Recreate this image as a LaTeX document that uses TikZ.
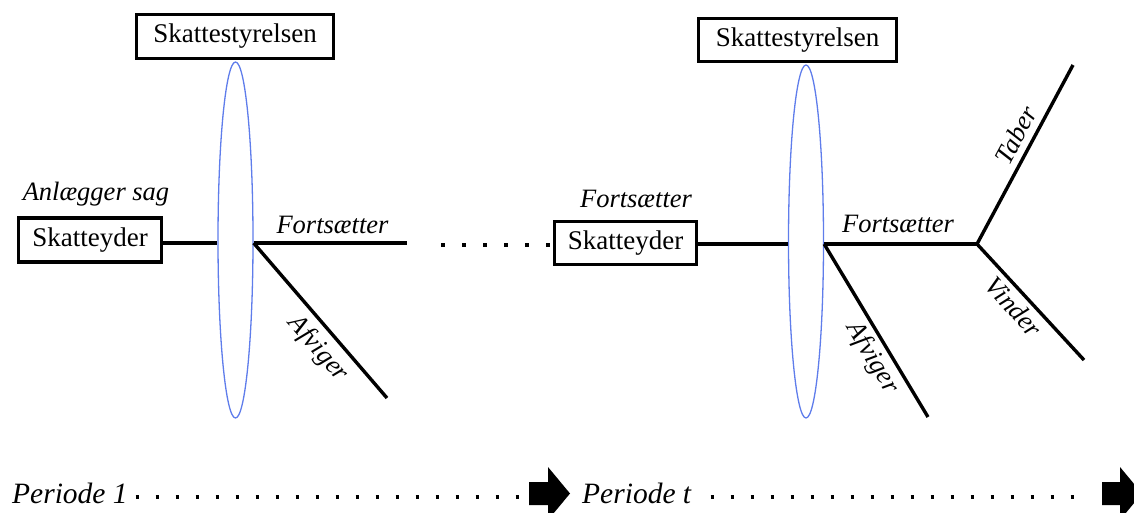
\documentclass[tikz,border=0pt]{standalone}
\usepackage{fontspec}
\setmainfont{Liberation Serif}
\usetikzlibrary{shapes.geometric}
\definecolor{ellblue}{RGB}{95,125,235}
\tikzset{
  box/.style={draw=black, line width=3.4pt, inner sep=0pt, font=\fontsize{27}{30}\selectfont},
  lens/.style={draw=ellblue, line width=1.3pt, ellipse, inner sep=0pt},
  ln/.style={line width=3.4pt, black},
  lbl/.style={font=\fontsize{26.5}{30}\selectfont\itshape, inner sep=0pt},
  plbl/.style={font=\fontsize{29.5}{33}\selectfont\itshape, inner sep=0pt},
  dotrow/.style={line width=4pt, dash pattern=on 4pt off 17pt},
  dotrowb/.style={line width=3.5pt, dash pattern=on 3.5pt off 16.5pt},
  blockarrow/.style={fill=black},
}
\begin{document}
\begin{tikzpicture}[x=1pt,y=-1pt]
\useasboundingbox (0,0) rectangle (1134,512);
\clip (0,0) rectangle (1134,512);

% left period
\node[box, minimum width=197pt, minimum height=44pt] (st1) at (235,36.5) {Skattestyrelsen};
\node[box, minimum width=143pt, minimum height=44pt] (sk1) at (90,240) {Skatteyder};
\node[lens, minimum width=35pt, minimum height=356pt] (e1) at (235.5,240) {};
\coordinate (l1) at (0,243);
\coordinate (f1) at (407,243);
\coordinate (a1) at (387,398);
\draw[ln] (sk1.east |- l1) -- (e1.west |- l1);
\draw[ln] (e1.east |- l1) -- (f1);
\draw[ln] (e1.east |- l1) -- (a1);
\node[lbl, anchor=base] (t1) at (96,200) {Anlægger sag};
\node[lbl, anchor=base] (t2) at (332.5,233) {Fortsætter};
\node[lbl, rotate=-49] (t3) at (318,349) {Afviger};

% dots between periods
\coordinate (d0) at (441,245);
\node[box, minimum width=142pt, minimum height=43pt] (sk2) at (625.5,243) {Skatteyder};
\draw[dotrow] (d0) -- (sk2.west |- d0);

% right period
\node[box, minimum width=198pt, minimum height=43pt] (st2) at (797.5,40) {Skattestyrelsen};
\node[lens, minimum width=35pt, minimum height=353pt] (e2) at (806,241.5) {};
\coordinate (l2) at (0,244);
\coordinate (fork) at (977,244);
\coordinate (tb) at (1073,65);
\coordinate (vd) at (1084,360);
\coordinate (a2) at (928,417);
\draw[ln] (sk2.east |- l2) -- (e2.west |- l2);
\draw[ln] (e2.east |- l2) -- (fork);
\draw[ln] (fork) -- (tb);
\draw[ln] (fork) -- (vd);
\draw[ln] (e2.east |- l2) -- (a2);
\node[lbl, anchor=base] (t4) at (636,207) {Fortsætter};
\node[lbl, anchor=base] (t5) at (898,232) {Fortsætter};
\node[lbl, rotate=-59.3] (t6) at (872,358) {Afviger};
\node[lbl, rotate=62] (t7) at (1016,135) {Taber};
\node[lbl, rotate=-48] (t8) at (1014,307) {Vinder};

% time axis
\node[plbl, anchor=base west] (p1) at (12,503) {Periode 1};
\node[plbl, anchor=base west] (p2) at (582,503) {Periode t};
\coordinate (b1s) at (135.5,497);
\coordinate (b1e) at (519,497);
\coordinate (b2s) at (710.5,497);
\coordinate (b2e) at (1074,497);
\draw[dotrowb] (b1s) -- (b1e);
\draw[dotrowb] (b2s) -- (b2e);
\fill[blockarrow] (529,482) -- (548,482) -- (548,467) -- (570,493.5) -- (548,520) -- (548,505) -- (529,505) -- cycle;
\fill[blockarrow] (1102,482) -- (1120,482) -- (1120,467) -- (1142,493.5) -- (1120,520) -- (1120,505) -- (1102,505) -- cycle;
\end{tikzpicture}
\end{document}
